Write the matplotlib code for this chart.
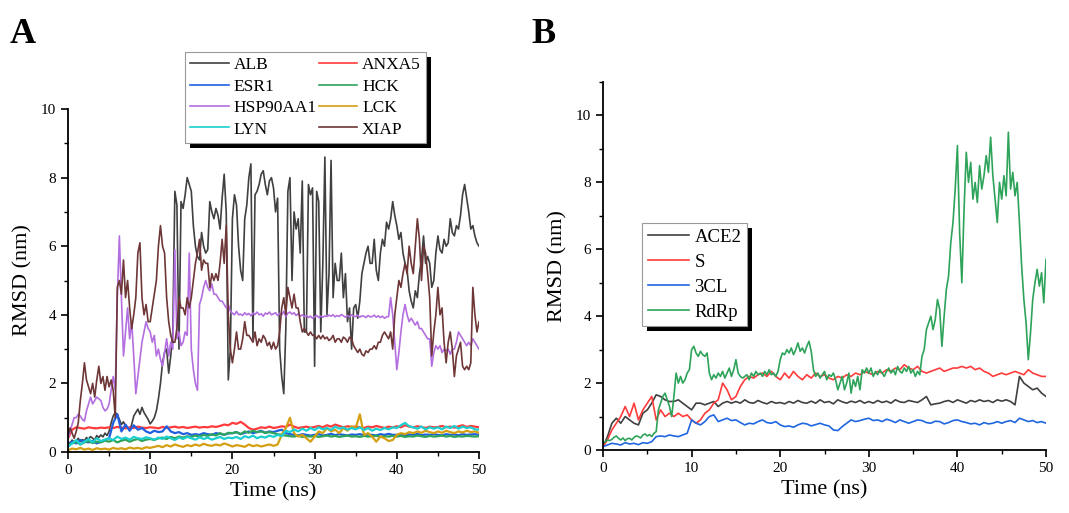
import numpy as np
import matplotlib
matplotlib.use("Agg")
import matplotlib.pyplot as plt
from matplotlib.patches import Rectangle
from matplotlib.ticker import MultipleLocator

plt.rcParams['font.family'] = ['Liberation Serif', 'DejaVu Serif']

# ---------------- panel A data (RMSD, nm) ----------------
# big series sampled every 0.25 ns, small ones every 0.5 ns
alb = [
    0.30, 0.25, 0.35, 0.28, 0.32, 0.40, 0.30, 0.36, 0.33, 0.42, 0.38, 0.45,
    0.40, 0.35, 0.48, 0.42, 0.50, 0.44, 0.55, 0.48, 0.60, 0.85, 1.05, 1.15,
    1.10, 0.95, 0.80, 0.88, 0.75, 0.70, 0.65, 0.80, 1.05, 1.15, 1.25, 1.10,
    1.30, 1.15, 1.05, 0.95, 0.82, 0.90, 1.00, 1.20, 1.55, 2.00, 2.60, 2.90,
    3.00, 2.30, 2.80, 3.50, 7.60, 7.20, 3.00, 7.30, 7.10, 7.50, 8.00, 7.80,
    7.60, 6.60, 6.00, 5.70, 5.60, 6.40, 6.00, 5.80, 5.90, 7.30, 7.00, 6.80,
    7.10, 6.90, 6.50, 7.40, 8.10, 7.00, 2.10, 3.00, 6.80, 7.50, 7.20, 6.00,
    5.30, 5.00, 6.80, 7.20, 8.00, 8.40, 3.30, 7.50, 7.60, 7.80, 8.10, 8.20,
    7.80, 7.50, 7.90, 8.00, 7.70, 7.00, 7.40, 3.00, 2.20, 1.70, 3.60, 7.60,
    8.00, 5.00, 7.00, 6.50, 6.80, 5.80, 7.90, 3.50, 3.50, 7.80, 7.50, 7.70,
    2.50, 7.60, 7.30, 3.50, 5.50, 8.60, 4.00, 5.20, 8.50, 4.50, 5.50, 5.00,
    5.00, 5.80, 4.50, 5.20, 3.80, 4.20, 3.00, 4.20, 4.30, 3.90, 4.40, 5.20,
    5.50, 5.80, 6.00, 5.50, 5.50, 6.20, 5.30, 5.00, 5.80, 6.20, 6.00, 6.70,
    6.50, 6.80, 7.30, 6.90, 6.60, 6.20, 6.40, 5.80, 5.50, 5.30, 4.70, 4.40,
    4.20, 4.70, 4.50, 5.20, 5.60, 6.30, 5.50, 5.70, 5.50, 4.80, 5.00, 5.80,
    6.30, 5.90, 5.80, 6.20, 6.00, 6.10, 6.80, 6.40, 6.30, 6.60, 6.50, 6.90,
    7.50, 7.80, 7.40, 7.00, 6.50, 6.60, 6.30, 6.10, 6.00,
]
xiap = [
    0.50, 0.70, 0.55, 0.40, 0.60, 0.85, 1.50, 2.00, 2.60, 2.10, 1.90, 1.70,
    2.00, 1.60, 2.10, 2.50, 2.00, 2.20, 1.80, 2.20, 1.90, 2.10, 1.80, 1.00,
    4.80, 5.00, 4.60, 5.60, 4.50, 5.00, 4.20, 3.60, 4.00, 4.50, 5.80, 6.10,
    4.50, 4.00, 4.30, 3.80, 3.80, 4.20, 4.60, 5.00, 6.00, 6.60, 6.00, 5.80,
    4.50, 3.80, 3.40, 3.20, 3.20, 3.60, 4.50, 4.20, 4.20, 4.00, 4.50, 4.20,
    4.50, 5.00, 5.50, 5.80, 6.20, 5.30, 5.60, 5.50, 5.50, 4.80, 5.20, 5.00,
    5.20, 5.00, 5.50, 6.20, 5.50, 6.60, 4.00, 3.00, 2.60, 3.00, 3.50, 3.00,
    3.00, 3.30, 3.80, 3.40, 3.40, 3.30, 3.20, 3.50, 3.10, 3.30, 3.20, 3.40,
    3.30, 3.10, 3.20, 3.00, 3.20, 3.00, 3.10, 3.50, 4.20, 4.50, 4.00, 4.80,
    4.50, 4.20, 4.60, 4.20, 4.20, 3.80, 3.50, 3.60, 3.50, 3.40, 3.50, 3.40,
    3.40, 3.30, 3.40, 3.30, 3.40, 3.30, 3.35, 3.25, 3.30, 3.40, 3.20, 3.30,
    3.30, 3.20, 3.35, 3.30, 3.20, 3.35, 3.30, 3.10, 3.00, 2.90, 3.00, 2.85,
    2.80, 2.95, 2.90, 3.00, 3.00, 3.10, 3.00, 3.20, 3.20, 3.40, 3.50, 3.40,
    3.30, 3.50, 3.00, 4.00, 4.50, 5.00, 4.80, 5.20, 5.50, 5.20, 6.00, 5.50,
    5.20, 6.00, 6.80, 6.20, 5.00, 6.00, 5.80, 5.20, 4.50, 2.80, 3.50, 4.00,
    4.80, 4.00, 4.20, 3.20, 2.60, 3.20, 3.50, 3.00, 2.20, 2.80, 3.00, 3.20,
    2.50, 2.40, 2.50, 2.40, 2.60, 4.80, 4.00, 3.50, 3.80,
]
hsp90aa1 = [
    0.40, 0.60, 0.80, 1.00, 1.00, 1.10, 1.05, 0.95, 0.90, 1.20, 1.40, 1.60,
    1.40, 1.50, 1.60, 1.55, 1.50, 1.30, 1.20, 1.25, 1.40, 1.80, 2.20, 1.80,
    4.50, 6.30, 4.50, 2.80, 3.50, 4.20, 3.30, 3.80, 2.80, 1.70, 2.20, 2.70,
    3.20, 3.50, 3.80, 3.60, 3.50, 3.20, 3.40, 2.80, 3.00, 2.70, 2.50, 2.90,
    3.30, 2.80, 3.20, 3.00, 5.90, 3.30, 3.50, 3.10, 3.20, 3.50, 3.40, 5.80,
    3.00, 2.40, 2.00, 1.80, 4.30, 4.50, 4.80, 5.00, 4.80, 4.70, 4.90, 4.60,
    4.60, 4.50, 4.40, 4.40, 4.30, 4.20, 4.30, 4.10, 4.05, 4.00, 4.10, 4.00,
    4.02, 3.98, 4.06, 4.00, 4.04, 3.97, 4.05, 4.01, 4.08, 4.00, 4.03, 3.96,
    4.05, 4.02, 4.08, 4.00, 4.03, 4.06, 3.98, 4.04, 4.00, 4.10, 3.95, 4.05,
    4.08, 4.02, 4.06, 3.98, 4.03, 3.96, 4.00, 3.95, 3.98, 3.92, 3.96, 3.90,
    3.94, 3.98, 3.92, 3.96, 3.93, 3.97, 3.95, 3.99, 3.96, 4.00, 3.94, 3.98,
    3.95, 4.01, 3.97, 3.93, 3.98, 3.94, 4.00, 3.96, 3.95, 3.99, 3.93, 3.97,
    3.96, 3.92, 3.98, 3.94, 3.95, 3.99, 3.93, 3.97, 3.92, 3.96, 3.90, 3.94,
    3.95, 4.50, 4.00, 3.20, 2.40, 2.90, 3.50, 4.00, 4.30, 4.00, 3.80, 3.90,
    3.80, 3.70, 3.80, 3.60, 3.60, 3.50, 3.40, 3.30, 3.30, 2.50, 2.90, 3.10,
    3.00, 3.10, 2.90, 3.00, 2.95, 3.00, 2.85, 3.00, 3.00, 3.20, 3.50, 3.40,
    3.30, 3.20, 3.10, 3.20, 3.10, 3.30, 3.20, 3.10, 3.00,
]
anxa5 = [
    0.40, 0.65, 0.72, 0.70, 0.68, 0.72, 0.70, 0.69, 0.71, 0.70,
    0.72, 0.70, 0.73, 0.71, 0.69, 0.72, 0.70, 0.74, 0.71, 0.70,
    0.72, 0.71, 0.69, 0.73, 0.70, 0.72, 0.74, 0.71, 0.73, 0.70,
    0.72, 0.74, 0.71, 0.73, 0.72, 0.75, 0.73, 0.76, 0.80, 0.78,
    0.85, 0.82, 0.88, 0.80, 0.70, 0.65, 0.68, 0.72, 0.70, 0.74,
    0.70, 0.72, 0.75, 0.73, 0.80, 0.74, 0.70, 0.72, 0.74, 0.71,
    0.73, 0.76, 0.72, 0.78, 0.74, 0.80, 0.76, 0.72, 0.75, 0.73,
    0.74, 0.72, 0.70, 0.74, 0.72, 0.76, 0.73, 0.70, 0.74, 0.72,
    0.75, 0.72, 0.78, 0.74, 0.72, 0.75, 0.73, 0.70, 0.74, 0.72,
    0.73, 0.76, 0.72, 0.74, 0.71, 0.75, 0.78, 0.73, 0.76, 0.74, 0.72,
]
esr1 = [
    0.20, 0.30, 0.25, 0.35, 0.30, 0.28, 0.32, 0.25, 0.30, 0.35,
    0.40, 0.85, 1.10, 0.60, 0.80, 0.62, 0.78, 0.65, 0.70, 0.60,
    0.55, 0.62, 0.58, 0.60, 0.75, 0.60, 0.55, 0.58, 0.52, 0.55,
    0.50, 0.52, 0.50, 0.55, 0.52, 0.50, 0.55, 0.53, 0.50, 0.54,
    0.55, 0.58, 0.52, 0.56, 0.60, 0.55, 0.58, 0.62, 0.56, 0.60,
    0.58, 0.62, 0.65, 0.55, 0.52, 0.50, 0.48, 0.52, 0.50, 0.48,
    0.50, 0.52, 0.48, 0.50, 0.53, 0.49, 0.52, 0.50, 0.48, 0.51,
    0.50, 0.52, 0.49, 0.51, 0.50, 0.48, 0.52, 0.50, 0.53, 0.50,
    0.50, 0.52, 0.48, 0.51, 0.50, 0.53, 0.49, 0.51, 0.50, 0.52,
    0.50, 0.48, 0.52, 0.50, 0.51, 0.49, 0.52, 0.50, 0.51, 0.52, 0.50,
]
hck = [
    0.20, 0.25, 0.30, 0.22, 0.28, 0.32, 0.26, 0.30, 0.28, 0.33,
    0.30, 0.35, 0.28, 0.33, 0.36, 0.30, 0.35, 0.38, 0.32, 0.36,
    0.38, 0.35, 0.40, 0.42, 0.38, 0.44, 0.40, 0.45, 0.42, 0.46,
    0.44, 0.48, 0.45, 0.50, 0.47, 0.52, 0.48, 0.55, 0.50, 0.56,
    0.55, 0.58, 0.52, 0.60, 0.56, 0.62, 0.58, 0.60, 0.56, 0.58,
    0.55, 0.52, 0.50, 0.48, 0.46, 0.45, 0.48, 0.44, 0.46, 0.45,
    0.47, 0.44, 0.46, 0.48, 0.45, 0.47, 0.44, 0.46, 0.48, 0.45,
    0.46, 0.44, 0.47, 0.45, 0.46, 0.48, 0.44, 0.46, 0.45, 0.47,
    0.45, 0.47, 0.44, 0.46, 0.45, 0.48, 0.46, 0.44, 0.47, 0.45,
    0.46, 0.48, 0.45, 0.47, 0.44, 0.46, 0.45, 0.47, 0.46, 0.45, 0.46,
]
lck = [
    0.05, 0.10, 0.08, 0.12, 0.07, 0.10, 0.06, 0.11, 0.08, 0.10,
    0.07, 0.12, 0.09, 0.11, 0.08, 0.13, 0.10, 0.12, 0.09, 0.14,
    0.12, 0.15, 0.18, 0.14, 0.20, 0.16, 0.22, 0.18, 0.15, 0.20,
    0.17, 0.22, 0.18, 0.24, 0.20, 0.18, 0.22, 0.19, 0.25, 0.21,
    0.16, 0.20, 0.18, 0.15, 0.22, 0.17, 0.20, 0.16, 0.19, 0.22,
    0.18, 0.22, 0.50, 0.70, 1.00, 0.55, 0.45, 0.50, 0.40, 0.30,
    0.45, 0.60, 0.55, 0.70, 0.60, 0.65, 0.55, 0.70, 0.62, 0.75,
    0.70, 1.10, 0.50, 0.55, 0.45, 0.30, 0.45, 0.40, 0.32, 0.35,
    0.50, 0.55, 0.52, 0.58, 0.55, 0.60, 0.56, 0.62, 0.58, 0.55,
    0.60, 0.56, 0.62, 0.58, 0.55, 0.60, 0.57, 0.62, 0.58, 0.60, 0.56,
]
lyn = [
    0.15, 0.25, 0.35, 0.22, 0.30, 0.38, 0.28, 0.40, 0.32, 0.36,
    0.40, 0.35, 0.45, 0.38, 0.42, 0.36, 0.44, 0.40, 0.38, 0.43,
    0.40, 0.36, 0.42, 0.38, 0.45, 0.40, 0.35, 0.42, 0.38, 0.44,
    0.40, 0.36, 0.43, 0.38, 0.42, 0.36, 0.40, 0.44, 0.38, 0.42,
    0.40, 0.44, 0.38, 0.46, 0.42, 0.48, 0.40, 0.45, 0.42, 0.48,
    0.44, 0.50, 0.46, 0.62, 0.58, 0.66, 0.60, 0.68, 0.62, 0.70,
    0.64, 0.72, 0.66, 0.70, 0.64, 0.74, 0.68, 0.72, 0.65, 0.70,
    0.66, 0.72, 0.64, 0.70, 0.62, 0.68, 0.64, 0.70, 0.66, 0.72,
    0.70, 0.78, 0.85, 0.75, 0.72, 0.68, 0.74, 0.66, 0.72, 0.68,
    0.72, 0.66, 0.74, 0.70, 0.76, 0.68, 0.74, 0.70, 0.72, 0.66, 0.65,
]

# ---------------- panel B data ----------------
rdrp = [
    0.20, 0.25, 0.30, 0.28, 0.32, 0.38, 0.42, 0.35, 0.30, 0.36, 0.28, 0.34,
    0.35, 0.30, 0.38, 0.42, 0.40, 0.36, 0.45, 0.48, 0.42, 0.46, 0.40, 0.50,
    0.55, 1.20, 1.40, 1.60, 1.70, 1.50, 1.30, 1.00, 1.60, 2.30, 2.00, 2.20,
    2.00, 2.10, 2.30, 2.40, 3.00, 3.10, 2.90, 2.80, 2.95, 2.85, 2.80, 2.90,
    2.30, 2.10, 2.25, 2.15, 2.30, 2.20, 2.35, 2.15, 2.30, 2.45, 2.20, 2.40,
    2.70, 2.30, 2.20, 2.15, 2.20, 2.25, 2.10, 2.30, 2.20, 2.35, 2.25, 2.30,
    2.20, 2.35, 2.25, 2.40, 2.25, 2.30, 2.20, 2.35, 2.70, 2.90, 2.85, 3.00,
    2.90, 3.05, 2.85, 3.00, 3.20, 2.95, 3.05, 2.90, 3.10, 3.25, 2.95, 2.40,
    2.20, 2.30, 2.15, 2.25, 2.35, 2.10, 2.25, 2.20, 2.30, 2.10, 1.80, 2.00,
    2.20, 1.80, 2.00, 2.30, 1.70, 2.10, 1.90, 2.20, 1.80, 2.40, 2.30, 2.45,
    2.30, 2.45, 2.20, 2.35, 2.25, 2.40, 2.30, 2.20, 2.35, 2.45, 2.30, 2.40,
    2.25, 2.50, 2.35, 2.30, 2.45, 2.35, 2.50, 2.30, 2.40, 2.20, 2.35, 2.25,
    2.80, 3.00, 3.60, 3.80, 4.00, 3.60, 3.90, 4.50, 4.20, 3.10, 4.00, 4.80,
    5.20, 6.20, 6.80, 7.80, 9.10, 6.50, 5.00, 7.20, 8.90, 8.00, 8.60, 7.50,
    8.00, 7.40, 8.50, 7.80, 8.20, 8.80, 8.30, 9.35, 8.20, 7.50, 6.80, 8.00,
    7.50, 8.20, 7.60, 9.50, 7.80, 8.30, 7.60, 8.00, 6.80, 5.50, 4.50, 3.80,
    2.70, 3.50, 4.50, 5.00, 5.40, 4.90, 5.30, 4.40, 5.70,
]
s_prot = [
    0.10, 0.30, 0.60, 0.80, 1.00, 1.30, 1.00, 1.40, 0.90, 1.20,
    1.40, 1.60, 0.90, 1.20, 1.00, 1.10, 1.00, 1.10, 1.00, 1.05,
    0.90, 0.80, 0.90, 1.10, 1.20, 1.40, 1.50, 2.00, 1.80, 1.50,
    1.60, 1.90, 2.10, 2.20, 2.15, 2.25, 2.30, 2.20, 2.35, 2.20,
    2.10, 2.30, 2.15, 2.35, 2.20, 2.10, 2.25, 2.15, 2.30, 2.20,
    2.25, 2.15, 2.10, 2.20, 2.15, 2.25, 2.20, 2.30, 2.25, 2.35,
    2.30, 2.25, 2.35, 2.30, 2.40, 2.35, 2.45, 2.40, 2.55, 2.45,
    2.40, 2.50, 2.35, 2.30, 2.35, 2.40, 2.45, 2.35, 2.40, 2.45,
    2.45, 2.50, 2.45, 2.50, 2.40, 2.45, 2.35, 2.30, 2.20, 2.25,
    2.30, 2.25, 2.30, 2.35, 2.30, 2.25, 2.40, 2.30, 2.25, 2.20, 2.20,
]
ace2 = [
    0.10, 0.40, 0.80, 0.95, 0.80, 1.00, 0.90, 0.80, 0.75, 1.10,
    1.20, 1.40, 1.65, 1.60, 1.50, 1.45, 1.45, 1.50, 1.40, 1.30,
    1.20, 1.40, 1.40, 1.35, 1.40, 1.45, 1.30, 1.40, 1.45, 1.40,
    1.45, 1.40, 1.50, 1.42, 1.40, 1.48, 1.42, 1.38, 1.45, 1.40,
    1.42, 1.38, 1.45, 1.40, 1.48, 1.42, 1.40, 1.46, 1.40, 1.50,
    1.42, 1.45, 1.38, 1.50, 1.44, 1.40, 1.46, 1.42, 1.48, 1.40,
    1.45, 1.40, 1.48, 1.42, 1.46, 1.40, 1.50, 1.44, 1.42, 1.48,
    1.45, 1.42, 1.50, 1.60, 1.35, 1.38, 1.40, 1.45, 1.48, 1.42,
    1.50, 1.45, 1.40, 1.48, 1.44, 1.50, 1.45, 1.48, 1.42, 1.50,
    1.46, 1.50, 1.45, 1.35, 2.20, 2.00, 1.90, 1.80, 1.85, 1.70, 1.60,
]
cl3 = [
    0.10, 0.15, 0.20, 0.18, 0.15, 0.22, 0.18, 0.20, 0.16, 0.22,
    0.20, 0.25, 0.40, 0.42, 0.40, 0.45, 0.42, 0.40, 0.45, 0.50,
    0.90, 0.80, 0.75, 0.85, 1.00, 1.05, 0.85, 0.90, 0.95, 0.88,
    0.90, 0.82, 0.75, 0.80, 0.78, 0.85, 0.90, 0.82, 0.80, 0.85,
    0.75, 0.70, 0.72, 0.68, 0.75, 0.80, 0.78, 0.72, 0.76, 0.80,
    0.75, 0.72, 0.60, 0.58, 0.70, 0.80, 0.90, 0.85, 0.88, 0.92,
    0.95, 0.88, 0.90, 0.85, 0.92, 0.88, 0.82, 0.90, 0.85, 0.80,
    0.85, 0.90, 0.88, 0.82, 0.80, 0.86, 0.85, 0.78, 0.82, 0.88,
    0.90, 0.85, 0.82, 0.78, 0.80, 0.75, 0.82, 0.78, 0.80, 0.85,
    0.80, 0.85, 0.88, 0.82, 0.95, 0.90, 0.85, 0.88, 0.82, 0.85, 0.80,
]

series_a = [
    ('ALB', alb, '#404040'),
    ('ANXA5', anxa5, '#ff3b3b'),
    ('ESR1', esr1, '#1f5fe0'),
    ('HCK', hck, '#2ea35a'),
    ('HSP90AA1', hsp90aa1, '#b36ee0'),
    ('LCK', lck, '#d4a012'),
    ('LYN', lyn, '#1ccfcf'),
    ('XIAP', xiap, '#6e3636'),
]
series_b = [
    ('ACE2', ace2, '#404040'),
    ('S', s_prot, '#ff3b3b'),
    ('3CL', cl3, '#1f66e0'),
    ('RdRp', rdrp, '#2ea35a'),
]


def style_axes(ax, ymax):
    ax.set_xlim(0, 50)
    ax.set_ylim(0, ymax)
    ax.spines['top'].set_visible(False)
    ax.spines['right'].set_visible(False)
    for side in ('left', 'bottom'):
        ax.spines[side].set_linewidth(1.3)
    ax.xaxis.set_major_locator(MultipleLocator(10))
    ax.xaxis.set_minor_locator(MultipleLocator(5))
    ax.yaxis.set_major_locator(MultipleLocator(2))
    ax.yaxis.set_minor_locator(MultipleLocator(1))
    ax.tick_params(which='major', direction='out', length=5, width=1.2, labelsize=11)
    ax.tick_params(which='minor', direction='out', length=3, width=1.0)
    ax.set_xlabel('Time (ns)', fontsize=16, labelpad=4)
    ax.set_ylabel('RMSD (nm)', fontsize=16, labelpad=6)


def add_shadow(fig, ax, leg, off=5):
    # Origin-style black drop shadow behind the legend box
    fig.canvas.draw()
    bb = leg.get_window_extent()
    shadow = Rectangle((bb.x0 + off, bb.y0 - off), bb.width, bb.height,
                       transform=None, facecolor='black', edgecolor='none',
                       zorder=4.9, clip_on=False)
    ax.add_artist(shadow)


fig = plt.figure(figsize=(10.69, 5.13), dpi=100)
ax_a = fig.add_axes([0.0636, 0.1189, 0.3845, 0.6686])
ax_b = fig.add_axes([0.5641, 0.1228, 0.4144, 0.7173])

handles_a = {}
for name, vals, col in series_a:
    t = np.linspace(0, 50, len(vals))
    lw = 1.2 if len(vals) > 150 else 1.6
    line, = ax_a.plot(t, vals, color=col, lw=lw, label=name)
    handles_a[name] = line
style_axes(ax_a, 10)
order = ['ALB', 'ESR1', 'HSP90AA1', 'LYN', 'ANXA5', 'HCK', 'LCK', 'XIAP']
leg_a = ax_a.legend([handles_a[n] for n in order], order, ncol=2,
                    loc='upper left', bbox_to_anchor=(0.285, 1.166),
                    borderaxespad=0, fontsize=12.5, frameon=True,
                    fancybox=False, framealpha=1, edgecolor='#999999',
                    handlelength=2.2, handletextpad=0.3, columnspacing=0.1,
                    labelspacing=0.3, borderpad=0.3)
leg_a.get_frame().set_linewidth(0.8)
for h in leg_a.get_lines():
    h.set_linewidth(1.2)

for name, vals, col in series_b:
    t = np.linspace(0, 50, len(vals))
    ax_b.plot(t, vals, color=col, lw=1.2, label=name)
style_axes(ax_b, 11)
leg_b = ax_b.legend(loc='upper left', bbox_to_anchor=(0.088, 0.617),
                    borderaxespad=0, fontsize=13.5, frameon=True,
                    fancybox=False, framealpha=1, edgecolor='#999999',
                    handlelength=2.2, handletextpad=0.3,
                    labelspacing=0.42, borderpad=0.3)
leg_b.get_frame().set_linewidth(0.8)

fig.text(0.009, 0.965, 'A', fontsize=26, fontweight='bold', va='top', ha='left')
fig.text(0.497, 0.965, 'B', fontsize=26, fontweight='bold', va='top', ha='left')

add_shadow(fig, ax_a, leg_a)
add_shadow(fig, ax_b, leg_b)

fig.savefig('out.png', dpi=100)
